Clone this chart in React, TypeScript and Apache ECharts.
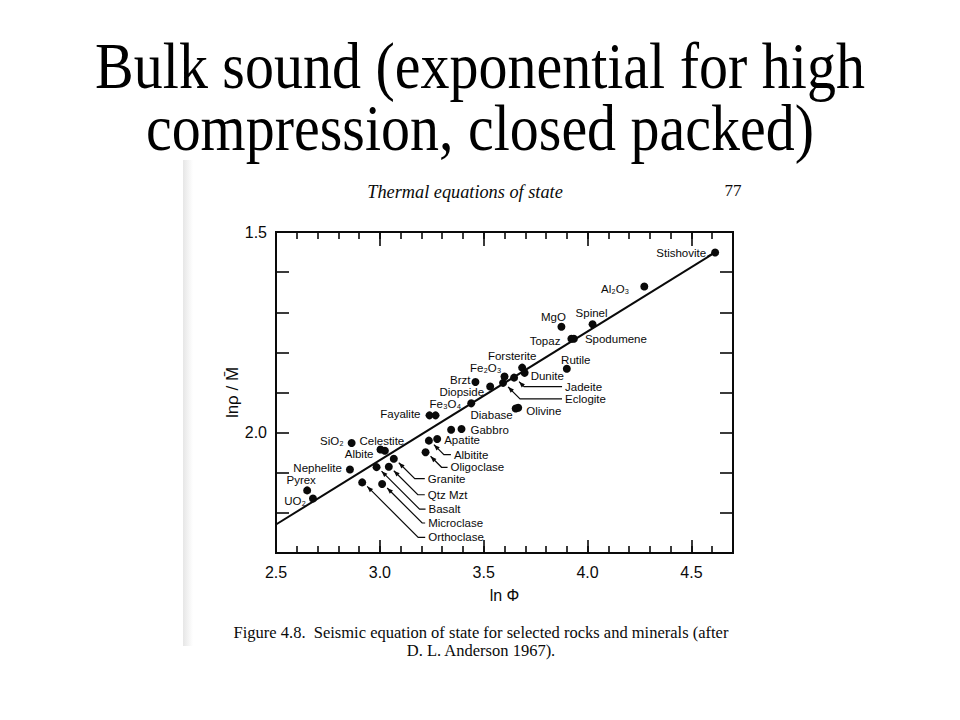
import React, { useEffect, useRef } from 'react';
import * as echarts from 'echarts';

// ---- data ----
const MINERALS = [
  'Stishovite', 'Al₂O₃', 'MgO', 'Spinel', 'Topaz', 'Spodumene', 'Forsterite', 'Dunite', 'Rutile',
  'Fe₂O₃', 'Jadeite', 'Eclogite', 'Brzt', 'Diopside', 'Fe₃O₄', 'Diabase', 'Olivine', 'Fayalite',
  'Fayalite', 'Gabbro', 'Gabbro', 'Apatite', 'Albitite', 'Oligoclase', 'SiO₂', 'Albite', 'Celestite',
  'Granite', 'Qtz Mzt', 'Basalt', 'Microclase', 'Orthoclase', 'Nephelite', 'Pyrex', 'UO₂',
];
const LN_PHI = [
  4.614, 4.273, 3.874, 4.024, 3.922, 3.934, 3.685, 3.697, 3.900,
  3.600, 3.646, 3.593, 3.460, 3.531, 3.440, 3.654, 3.666, 3.239,
  3.268, 3.343, 3.393, 3.276, 3.236, 3.220, 2.864, 3.003, 3.024,
  3.067, 3.043, 2.984, 3.011, 2.915, 2.856, 2.650, 2.678,
];
const LN_RHO_M = [
  1.551, 1.636, 1.736, 1.730, 1.766, 1.766, 1.838, 1.851, 1.841,
  1.860, 1.863, 1.876, 1.874, 1.885, 1.927, 1.940, 1.938, 1.957,
  1.957, 1.993, 1.991, 2.016, 2.020, 2.049, 2.026, 2.042, 2.045,
  2.065, 2.085, 2.086, 2.128, 2.124, 2.092, 2.144, 2.164,
];
const FIT_LN_PHI = [2.5, 4.614];
const FIT_LN_RHO_M = [2.229, 1.551];
const X_TICK_LABELS = ['2.5', '3.0', '3.5', '4.0', '4.5'];
const Y_TICK_LABELS = ['1.5', '2.0'];

// ---- label placement (pixel offsets from each dot; style only) ----
type Lay = { dx: number; dy: number; align: 'left' | 'right' | 'center'; leader?: boolean; tail?: boolean; hide?: boolean };
const LABEL_LAYOUT: Lay[] = [
  { dx: -9, dy: 1, align: 'right', tail: true },
  { dx: -15, dy: 2, align: 'right' },
  { dx: -8, dy: -10, align: 'center' },
  { dx: -1, dy: -11, align: 'center' },
  { dx: -11, dy: 2, align: 'right' },
  { dx: 11, dy: 0, align: 'left' },
  { dx: -10, dy: -12, align: 'center' },
  { dx: 6, dy: 3, align: 'left' },
  { dx: 9, dy: -9, align: 'center' },
  { dx: -3, dy: -8, align: 'right' },
  { dx: 51, dy: 9, align: 'left', leader: true },
  { dx: 62, dy: 16, align: 'left', leader: true },
  { dx: -5, dy: -2, align: 'right' },
  { dx: -6, dy: 6, align: 'right' },
  { dx: -10, dy: 1, align: 'right' },
  { dx: -3, dy: 6, align: 'right' },
  { dx: 8, dy: 3, align: 'left' },
  { dx: -9, dy: -1, align: 'right' },
  { dx: 0, dy: 0, align: 'left', hide: true },
  { dx: 0, dy: 0, align: 'left', hide: true },
  { dx: 9, dy: 1, align: 'left' },
  { dx: 7, dy: 1, align: 'left' },
  { dx: 25, dy: 14, align: 'left', leader: true },
  { dx: 25, dy: 15, align: 'left', leader: true },
  { dx: -8, dy: -2, align: 'right' },
  { dx: -7, dy: 5, align: 'right' },
  { dx: -3, dy: -10, align: 'center' },
  { dx: 34, dy: 20, align: 'left', leader: true },
  { dx: 39, dy: 28, align: 'left', leader: true },
  { dx: 52, dy: 42, align: 'left', leader: true },
  { dx: 46, dy: 39, align: 'left', leader: true },
  { dx: 66, dy: 55, align: 'left', leader: true },
  { dx: -8, dy: -2, align: 'right' },
  { dx: -6, dy: -10, align: 'center' },
  { dx: -7, dy: 3, align: 'right' },
];

const SANS = '"Liberation Sans", Arial, Helvetica, sans-serif';
const SERIF = '"Liberation Serif", "Times New Roman", Times, serif';
const INK = '#0a0a0a';

export default function App() {
  const ref = useRef<HTMLDivElement>(null);
  useEffect(() => {
    if (!ref.current) return;
    const chart = echarts.init(ref.current, undefined, { renderer: 'svg' });
    const fmtX = (v: number) => (X_TICK_LABELS.includes(v.toFixed(1)) ? v.toFixed(1) : '');
    const fmtY = (v: number) => (Y_TICK_LABELS.includes(v.toFixed(1)) ? v.toFixed(1) : '');
    const baseX = {
      type: 'value', min: 2.5, max: 4.7, gridIndex: 0,
      axisLine: { show: false }, splitLine: { show: false },
    };
    const baseY = {
      type: 'value', min: 1.5, max: 2.3, interval: 0.1, inverse: true, gridIndex: 0,
      axisLine: { show: false }, splitLine: { show: false },
      axisTick: { inside: true, length: 13, lineStyle: { color: INK, width: 1.6 } },
    };
    const option: any = {
      animation: false,
      backgroundColor: '#fff',
      grid: { left: 276, top: 232, width: 457, height: 321, show: true, borderColor: INK, borderWidth: 2, backgroundColor: 'transparent' },
      xAxis: [
        {
          ...baseX, position: 'bottom', interval: 0.5,
          axisTick: { inside: true, length: 13, lineStyle: { color: INK, width: 1.6 } },
          axisLabel: { formatter: fmtX, margin: 11, color: INK, fontSize: 16, fontFamily: SANS },
          name: 'ln Φ', nameLocation: 'middle', nameGap: 34,
          nameTextStyle: { color: INK, fontSize: 16, fontFamily: SANS },
        },
        { ...baseX, position: 'bottom', interval: 0.1, axisLabel: { show: false },
          axisTick: { inside: true, length: 7, lineStyle: { color: INK, width: 1.6 } } },
        { ...baseX, position: 'top', interval: 0.5, axisLabel: { show: false },
          axisTick: { inside: true, length: 14, lineStyle: { color: INK, width: 1.6 } } },
        { ...baseX, position: 'top', interval: 0.1, axisLabel: { show: false },
          axisTick: { inside: true, length: 7, lineStyle: { color: INK, width: 1.6 } } },
      ],
      yAxis: [
        {
          ...baseY, position: 'left',
          axisLabel: { formatter: fmtY, margin: 9, color: INK, fontSize: 16, fontFamily: SANS },
          name: 'lnρ / M̄', nameLocation: 'middle', nameGap: 32,
          nameTextStyle: { color: INK, fontSize: 17, fontFamily: SANS },
        },
        { ...baseY, position: 'right', axisLabel: { show: false } },
      ],
      graphic: [
        { type: 'rect', shape: { x: 183, y: 160, width: 10, height: 486 }, silent: true,
          style: { fill: new echarts.graphic.LinearGradient(0, 0, 1, 0, [
            { offset: 0, color: '#e6e6e6' }, { offset: 1, color: '#ffffff' }]) } },
        { type: 'text', x: 480, y: 112, scaleY: 1.12, originX: 480, originY: 112,
          style: { text: 'Bulk sound (exponential for high', font: `58px ${SERIF}`, fill: '#000', textAlign: 'center', textVerticalAlign: 'bottom' } },
        { type: 'text', x: 480, y: 182, scaleY: 1.12, originX: 480, originY: 182,
          style: { text: 'compression, closed packed)', font: `58px ${SERIF}`, fill: '#000', textAlign: 'center', textVerticalAlign: 'bottom' } },
        { type: 'text', x: 465, y: 192,
          style: { text: 'Thermal equations of state', font: `italic 18.3px ${SERIF}`, fill: INK, textAlign: 'center', textVerticalAlign: 'middle' } },
        { type: 'text', x: 733, y: 190,
          style: { text: '77', font: `17px ${SERIF}`, fill: INK, textAlign: 'center', textVerticalAlign: 'middle' } },
        { type: 'text', x: 481, y: 632,
          style: { text: 'Figure 4.8.  Seismic equation of state for selected rocks and minerals (after', font: `16.5px ${SERIF}`, fill: INK, textAlign: 'center', textVerticalAlign: 'middle' } },
        { type: 'text', x: 481, y: 650,
          style: { text: 'D. L. Anderson 1967).', font: `16.5px ${SERIF}`, fill: INK, textAlign: 'center', textVerticalAlign: 'middle' } },
      ],
      series: [
        {
          type: 'line', xAxisIndex: 0, yAxisIndex: 0, showSymbol: false, silent: true,
          data: FIT_LN_PHI.map((x, i) => [x, FIT_LN_RHO_M[i]]),
          lineStyle: { color: INK, width: 2 },
        },
        {
          type: 'scatter', xAxisIndex: 0, yAxisIndex: 0, symbolSize: 8,
          data: LN_PHI.map((x, i) => ({ name: MINERALS[i], value: [x, LN_RHO_M[i]] })),
          itemStyle: { color: INK, opacity: 1 },
        },
        {
          type: 'custom', xAxisIndex: 0, yAxisIndex: 0, clip: false, silent: true, z: 5,
          data: LN_PHI.map((x, i) => [x, LN_RHO_M[i], i]),
          renderItem: (_params: any, api: any) => {
            const i = api.value(2) as number;
            const lay = LABEL_LAYOUT[i];
            if (!lay || lay.hide) return { type: 'group', children: [] };
            const p = api.coord([api.value(0), api.value(1)]);
            const tx = p[0] + lay.dx;
            const ty = p[1] + lay.dy;
            const children: any[] = [{
              type: 'text', x: tx, y: ty,
              style: { text: MINERALS[i], fill: INK, font: `11.5px ${SANS}`, textAlign: lay.align, textVerticalAlign: 'middle' },
            }];
            if (lay.leader) {
              const tip = [p[0] + 5, p[1] + 4];
              const ex = Math.min(tip[0] + (ty - tip[1]), tx - 5);
              children.push({ type: 'polyline', shape: { points: [tip, [ex, ty], [tx - 3, ty]] },
                style: { stroke: INK, lineWidth: 1.2, fill: null } });
              const vx = tip[0] - ex, vy = tip[1] - ty;
              const len = Math.hypot(vx, vy) || 1;
              const ux = vx / len, uy = vy / len;
              const nx = -uy, ny = ux;
              const L = 6, W = 2.3;
              children.push({ type: 'polygon', shape: { points: [
                tip,
                [tip[0] - ux * L + nx * W, tip[1] - uy * L + ny * W],
                [tip[0] - ux * L - nx * W, tip[1] - uy * L - ny * W],
              ] }, style: { fill: INK } });
            }
            if (lay.tail) {
              children.push({ type: 'line', shape: { x1: tx + 1, y1: ty + 3, x2: p[0] - 3, y2: p[1] + 1 },
                style: { stroke: INK, lineWidth: 1.2 } });
            }
            return { type: 'group', children };
          },
        },
      ],
    };
    chart.setOption(option);
    return () => chart.dispose();
  }, []);
  return <div ref={ref} style={{ position: 'absolute', left: 0, top: 0, width: 960, height: 720, background: '#fff' }} />;
}
